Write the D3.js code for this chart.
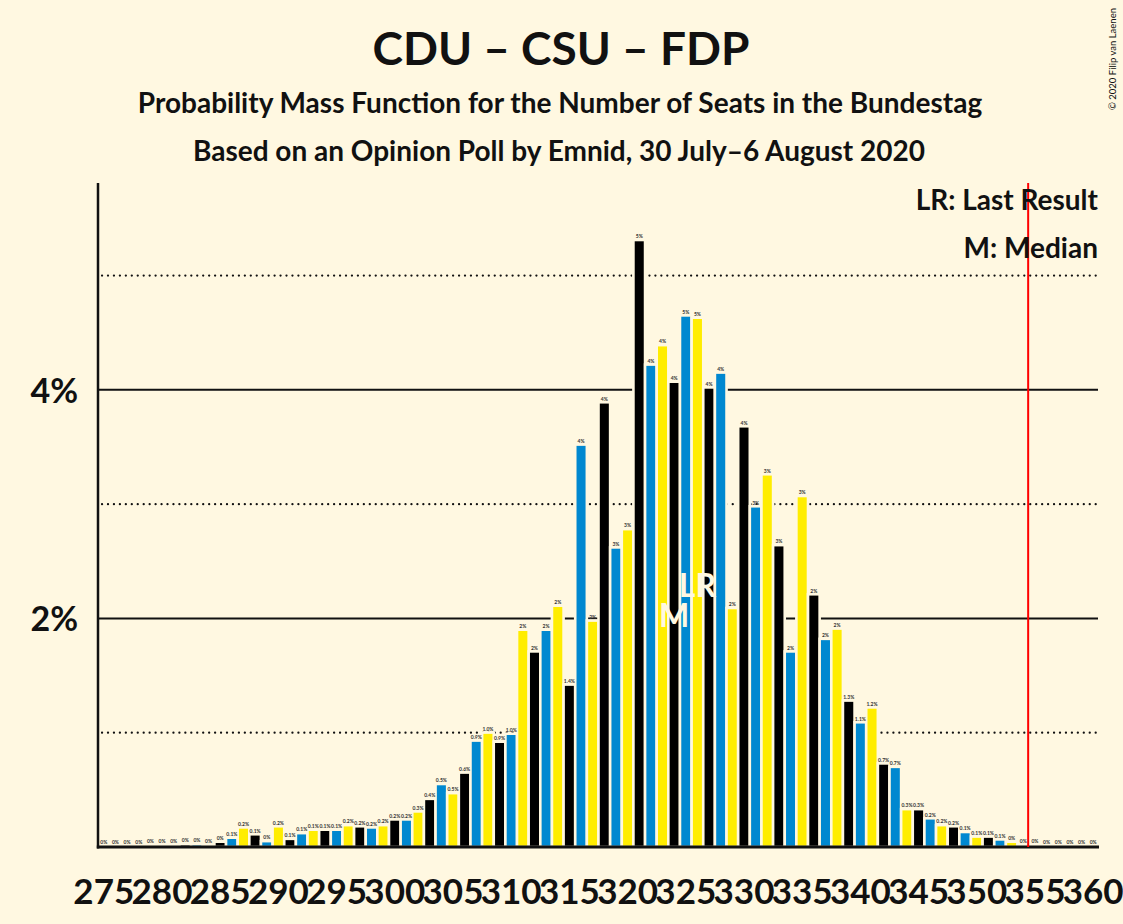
<!DOCTYPE html>
<html>
<head>
<meta charset="utf-8">
<script src="https://cdn.jsdelivr.net/npm/d3@7/dist/d3.min.js"></script>
<style>
  html, body { margin: 0; padding: 0; background: #fff8e1; }
  svg { display: block; }
  text { font-family: Lato, "Open Sans", sans-serif; }
</style>
</head>
<body>
<svg id="chart" width="1123" height="924"></svg>
<script>
// ---- Data ----
const seats = d3.range(275, 361);
const probabilities = [
  0.003, 0.003, 0.003, 0.004, 0.005, 0.01, 0.005, 0.015, 0.015, 0.005,   // 275-284
  0.035, 0.07, 0.16, 0.10, 0.04, 0.17, 0.06, 0.11, 0.14, 0.14,           // 285-294
  0.14, 0.18, 0.17, 0.16, 0.18, 0.23, 0.23, 0.30, 0.41, 0.54,            // 295-304
  0.46, 0.64, 0.92, 0.99, 0.91, 0.98, 1.89, 1.70, 1.89, 2.10,            // 305-314
  1.41, 3.51, 1.97, 3.88, 2.61, 2.77, 5.30, 4.21, 4.38, 4.06,            // 315-324
  4.64, 4.62, 4.01, 4.14, 2.08, 3.67, 2.97, 3.25, 2.63, 1.70,            // 325-334
  3.06, 2.20, 1.81, 1.90, 1.27, 1.08, 1.21, 0.72, 0.69, 0.32,            // 335-344
  0.32, 0.24, 0.18, 0.17, 0.12, 0.08, 0.08, 0.055, 0.035, 0.01,          // 345-354
  0.01, 0.004, 0.002, 0.002, 0.001, 0.001                               // 355-360
];
// colour cycle: seat 321 is black, 322 blue, 323 yellow, ...
const seriesColors = ["#000000", "#0088d0", "#ffed00"];
const colourAnchorSeat = 321;
const xTickValues = d3.range(275, 361, 5);
const yTickValues = [2, 4];
const yGridSolid = [2, 4];
const yGridDotted = [1, 3, 5];
const medianSeat = 324;
const lastResultSeat = 326;
const majoritySeat = 355;
const titleText = "CDU – CSU – FDP";
const subtitle1 = "Probability Mass Function for the Number of Seats in the Bundestag";
const subtitle2 = "Based on an Opinion Poll by Emnid, 30 July–6 August 2020";
const legendLines = ["LR: Last Result", "M: Median"];
const copyright = "© 2020 Filip van Laenen";

const bg = "#fff8e1";
const ink = "#111111";

const data = seats.map((s, i) => ({ seat: s, p: probabilities[i] }));

const svg = d3.select("#chart");
svg.append("rect").attr("width", 1123).attr("height", 924).attr("fill", bg);

const pLeft = 98, pRight = 1099, pTop = 183, pBottom = 847;
const x = d3.scaleBand().domain(seats).range([pLeft, pRight]).padding(0);
const y = d3.scaleLinear().domain([0, 5.81]).range([pBottom, pTop]);

// Gridlines
svg.append("g").selectAll("line").data(yGridSolid).join("line")
  .attr("x1", pLeft).attr("x2", pRight - 1)
  .attr("y1", d => y(d)).attr("y2", d => y(d))
  .attr("stroke", ink).attr("stroke-width", 2);
svg.append("g").selectAll("line").data(yGridDotted).join("line")
  .attr("x1", pLeft + 4).attr("x2", pRight - 1)
  .attr("y1", d => y(d)).attr("y2", d => y(d))
  .attr("stroke", ink).attr("stroke-width", 2.2)
  .attr("stroke-linecap", "round")
  .attr("stroke-dasharray", "0.1 5.85");

// Bars
const sw = 2.6;
svg.append("g").selectAll("rect").data(data).join("rect")
  .attr("x", d => x(d.seat))
  .attr("width", x.bandwidth())
  .attr("y", d => y(d.p) - sw / 2)
  .attr("height", d => Math.max(0, pBottom - y(d.p) + sw / 2))
  .attr("fill", d => seriesColors[(((d.seat - colourAnchorSeat) % 3) + 3) % 3])
  .attr("stroke", bg)
  .attr("stroke-width", sw);

// Bar labels
function fmt(v) {
  if (v >= 1.5) return Math.round(v) + "%";
  const s = v.toFixed(1);
  return (s === "0.0" ? "0" : s) + "%";
}
svg.append("g").selectAll("text").data(data).join("text")
  .attr("x", d => x(d.seat) + x.bandwidth() / 2)
  .attr("y", d => y(d.p) - 3)
  .attr("text-anchor", "middle")
  .attr("font-size", 5)
  .attr("font-weight", "bold")
  .attr("fill", "#333")
  .text(d => fmt(d.p));

// Median and Last Result markers
svg.append("text")
  .attr("x", x(medianSeat) + x.bandwidth() / 2)
  .attr("y", 627)
  .attr("text-anchor", "middle")
  .attr("font-size", 32).attr("font-weight", "bold")
  .attr("fill", bg).text("M");
svg.append("text")
  .attr("x", x(lastResultSeat) + x.bandwidth() / 2)
  .attr("y", 597)
  .attr("text-anchor", "middle")
  .attr("font-size", 32).attr("font-weight", "bold")
  .attr("fill", bg).text("LR");

// Axes
const yAxis = d3.axisLeft(y).tickValues(yTickValues).tickSize(0).tickFormat(d => d + "%");
const gy = svg.append("g").attr("transform", `translate(${pLeft},0)`).call(yAxis);
gy.select(".domain").remove();
gy.selectAll("text").attr("x", -20).attr("dy", "0.36em")
  .attr("font-size", 34).attr("font-weight", "bold").attr("fill", ink)
  .attr("font-family", "Lato, sans-serif");

const xAxis = d3.axisBottom(x).tickValues(xTickValues).tickSize(0);
const gx = svg.append("g").attr("transform", `translate(0,${pBottom})`).call(xAxis);
gx.select(".domain").remove();
gx.selectAll("text").attr("y", 57).attr("dy", 0)
  .attr("font-size", 35).attr("font-weight", "bold").attr("fill", ink)
  .attr("font-family", "Lato, sans-serif");

svg.append("line").attr("x1", pLeft).attr("x2", pLeft).attr("y1", pTop).attr("y2", pBottom + 1.5)
  .attr("stroke", ink).attr("stroke-width", 2.5);
svg.append("line").attr("x1", pLeft - 1.2).attr("x2", pRight).attr("y1", pBottom).attr("y2", pBottom)
  .attr("stroke", ink).attr("stroke-width", 3);

// Majority line
const mx = x(majoritySeat) - 1;
svg.append("line").attr("x1", mx).attr("x2", mx).attr("y1", pTop).attr("y2", pBottom)
  .attr("stroke", "#ff0000").attr("stroke-width", 2);

// Titles
svg.append("text").attr("x", 561).attr("y", 65).attr("text-anchor", "middle")
  .attr("font-size", 46).attr("font-weight", "bold").attr("fill", ink).text(titleText);
svg.append("text").attr("x", 560).attr("y", 113).attr("text-anchor", "middle")
  .attr("font-size", 28).attr("font-weight", "bold").attr("fill", ink).text(subtitle1);
svg.append("text").attr("x", 559).attr("y", 161).attr("text-anchor", "middle")
  .attr("font-size", 28).attr("font-weight", "bold").attr("fill", ink).text(subtitle2);

// Legend
svg.append("g").selectAll("text").data(legendLines).join("text")
  .attr("x", 1098).attr("y", (d, i) => 210 + i * 48)
  .attr("text-anchor", "end")
  .attr("font-size", 28).attr("font-weight", "bold").attr("fill", ink)
  .text(d => d);

// Copyright
svg.append("text")
  .attr("transform", "translate(1116,110) rotate(-90)")
  .attr("font-size", 9.5).attr("fill", ink)
  .attr("font-family", "'Liberation Sans', Arial, sans-serif")
  .text(copyright);
</script>
</body>
</html>
